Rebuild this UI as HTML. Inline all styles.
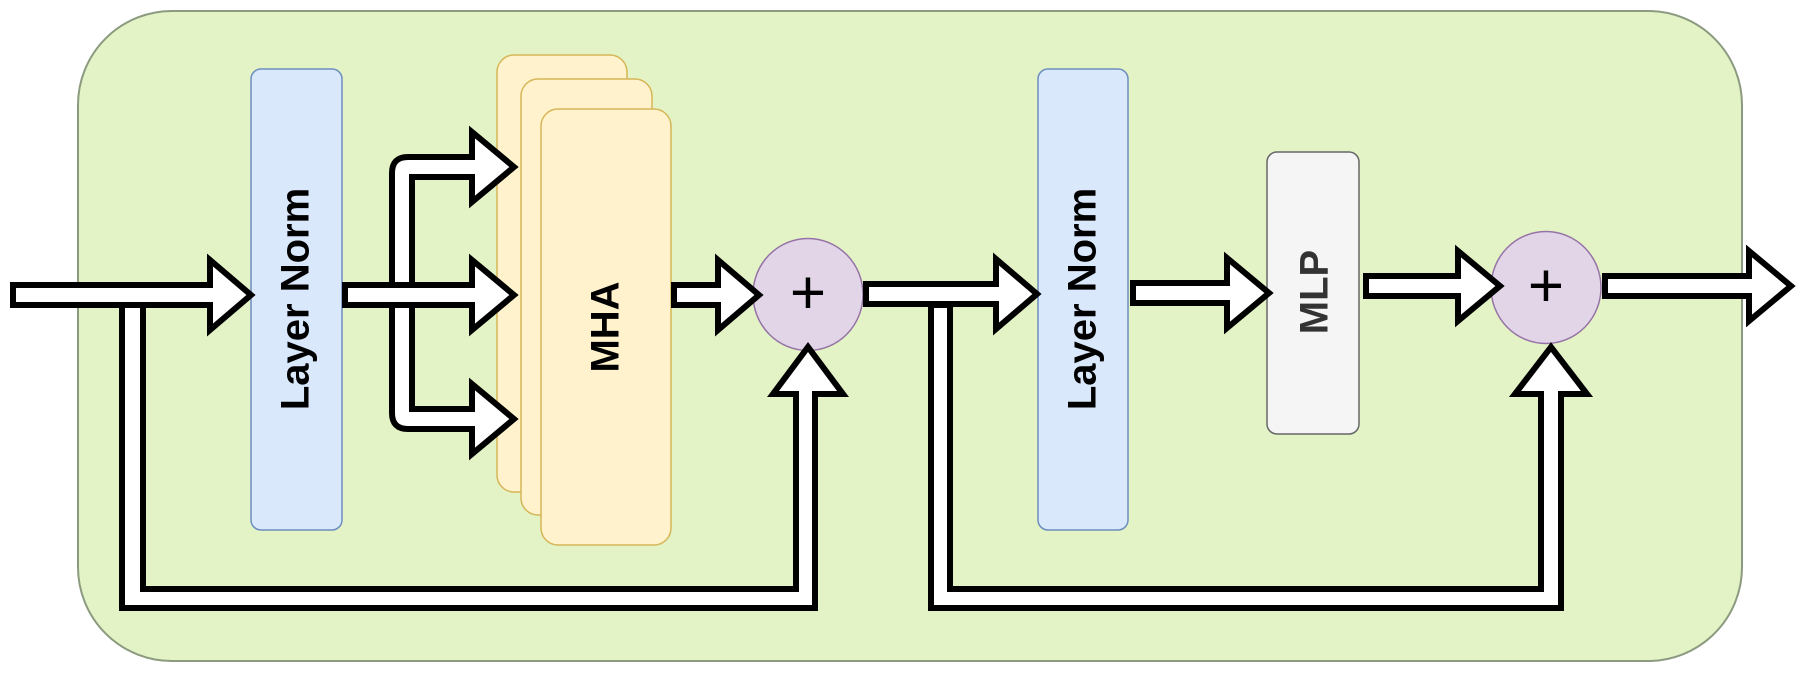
<!DOCTYPE html>
<html><head><meta charset="utf-8"><style>
html,body{margin:0;padding:0;background:#fff;}
svg{display:block;}
text{font-family:"Liberation Sans",sans-serif;font-weight:bold;}
</style></head><body>
<svg width="1800" height="677" viewBox="0 0 1800 677" xmlns="http://www.w3.org/2000/svg">
<rect x="78" y="11" width="1664" height="650" rx="94" ry="94" fill="#e3f3c6" stroke="#8c9a80" stroke-width="2"/>
<rect x="251" y="69" width="91" height="461" rx="10" fill="#dae8fc" stroke="#6c8ebf" stroke-width="1.5"/>
<text transform="translate(298,299) rotate(-90)" text-anchor="middle" dominant-baseline="middle" font-size="40">Layer Norm</text>
<rect x="497" y="55" width="130" height="437" rx="17" fill="#fff2cc" stroke="#d6b656" stroke-width="1.5"/>
<rect x="521" y="79" width="131" height="436" rx="17" fill="#fff2cc" stroke="#d6b656" stroke-width="1.5"/>
<rect x="541" y="109" width="130" height="436" rx="17" fill="#fff2cc" stroke="#d6b656" stroke-width="1.5"/>
<text transform="translate(608,327) rotate(-90)" text-anchor="middle" dominant-baseline="middle" font-size="40">MHA</text>
<rect x="1038" y="69" width="90" height="461" rx="10" fill="#dae8fc" stroke="#6c8ebf" stroke-width="1.5"/>
<text transform="translate(1085,299) rotate(-90)" text-anchor="middle" dominant-baseline="middle" font-size="40">Layer Norm</text>
<rect x="1267" y="152" width="92" height="282" rx="10" fill="#f5f5f5" stroke="#666" stroke-width="1.5"/>
<text transform="translate(1317,292) rotate(-90)" text-anchor="middle" dominant-baseline="middle" font-size="40" fill="#333">MLP</text>
<ellipse cx="808" cy="294.5" rx="55" ry="56" fill="#e1d5e7" stroke="#9673a6" stroke-width="1.5"/>
<text x="808" y="297" text-anchor="middle" dominant-baseline="middle" font-size="62" style="font-weight:normal">+</text>
<ellipse cx="1546" cy="287.5" rx="55" ry="56" fill="#e1d5e7" stroke="#9673a6" stroke-width="1.5"/>
<text x="1546" y="290" text-anchor="middle" dominant-baseline="middle" font-size="62" style="font-weight:normal">+</text>
<g fill="#fff" stroke="#000" stroke-width="6" stroke-linejoin="miter">
<polygon points="122,305 122,608 815,608 815,394 843,394 808,347 773,394 796,394 796,589 143,589 143,305"/>
<polygon points="931,305 931,608 1561,608 1561,394 1587,394 1551,347 1515,394 1541,394 1541,589 950,589 950,305"/>
<path d="M412,177 L472,177 L472,202 L514,167 L472,132 L472,157 L408,157 Q392,157 392,173 L392,413 Q392,429 408,429 L472,429 L472,454 L514,419 L472,384 L472,409 L412,409 Z"/>
<polygon points="13,285 210,285 210,260 251,295 210,330 210,305 13,305"/>
<polygon points="345,285 472,285 472,260 514,295 472,330 472,305 345,305"/>
<polygon points="674,285 718,285 718,260 759,295 718,330 718,305 674,305"/>
<polygon points="866,284 996,284 996,259 1037,294 996,329 996,304 866,304"/>
<polygon points="1133,283 1227,283 1227,258 1269,293 1227,328 1227,303 1133,303"/>
<polygon points="1366,276 1458,276 1458,251 1500,286 1458,321 1458,296 1366,296"/>
<polygon points="1605,276 1749,276 1749,251 1791,286 1749,321 1749,296 1605,296"/>
</g>
</svg>
</body></html>
